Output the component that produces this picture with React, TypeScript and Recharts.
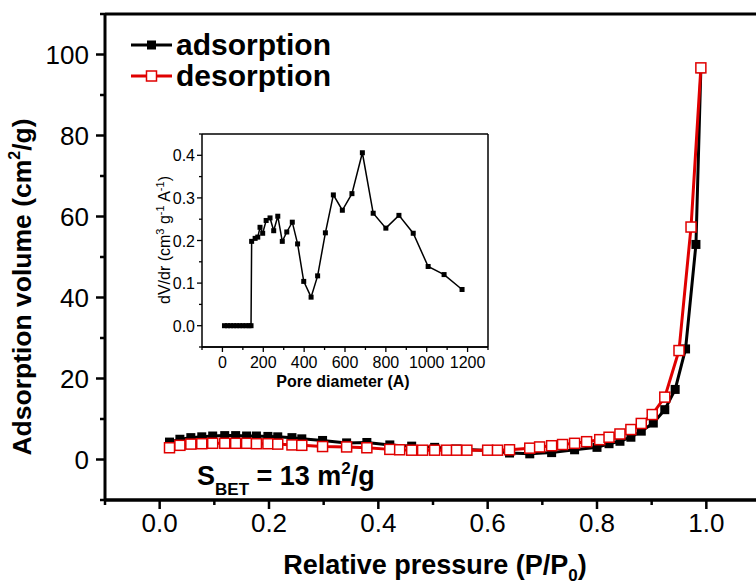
import React from "react";
import { Line, LineChart, ReferenceLine, XAxis, YAxis } from "recharts";

// main isotherm (P/P0 vs adsorbed volume)
const adsPressure = [
  0.018, 0.037, 0.057, 0.077, 0.097, 0.119, 0.139, 0.159, 0.177, 0.198, 0.216, 0.242, 0.26, 0.298,
  0.342, 0.379, 0.421, 0.461, 0.503, 0.543, 0.6, 0.64, 0.677, 0.717, 0.759, 0.8, 0.822, 0.842,
  0.862, 0.881, 0.903, 0.924, 0.943, 0.962, 0.981, 0.99,
];
const adsVolume = [
  4.3, 5.0, 5.4, 5.6, 5.8, 5.9, 5.9, 5.8, 5.8, 5.7, 5.6, 5.4, 5.1, 4.7, 4.1, 4.2, 3.6, 3.3, 3.0,
  2.6, 2.2, 1.6, 1.4, 1.7, 2.4, 3.0, 3.9, 4.5, 5.5, 7.0, 9.0, 12.3, 17.3, 27.3, 53.1, 96.5,
];
const desPressure = [
  0.018, 0.037, 0.057, 0.077, 0.097, 0.119, 0.139, 0.159, 0.177, 0.198, 0.216, 0.242, 0.26, 0.298,
  0.342, 0.379, 0.421, 0.439, 0.461, 0.481, 0.503, 0.525, 0.543, 0.562, 0.6, 0.618, 0.64, 0.677,
  0.695, 0.717, 0.737, 0.759, 0.781, 0.805, 0.822, 0.842, 0.862, 0.881, 0.901, 0.924, 0.95, 0.972,
  0.99,
];
const desVolume = [
  2.9, 3.5, 3.8, 3.9, 4.0, 4.0, 4.0, 4.0, 3.9, 3.9, 3.8, 3.6, 3.5, 3.2, 3.1, 2.9, 2.5, 2.4, 2.3,
  2.3, 2.3, 2.3, 2.3, 2.3, 2.3, 2.3, 2.4, 2.8, 3.1, 3.4, 3.7, 4.0, 4.4, 4.9, 5.5, 6.3, 7.4, 8.9,
  11.1, 15.4, 26.9, 57.4, 96.7,
];

// inset: pore size distribution
const poreDiameter = [
  10, 25, 40, 55, 70, 85, 100, 115, 130, 140, 143, 160, 173, 184, 197, 214, 233, 251, 271, 293,
  315, 342, 368, 398, 434, 466, 504, 543, 587, 634, 685, 738, 800, 864, 934, 1007, 1085, 1173,
];
const dVdr = [
  0, 0, 0, 0, 0, 0, 0, 0, 0, 0, 0.198, 0.205, 0.208, 0.231, 0.217, 0.247, 0.253, 0.223, 0.257,
  0.198, 0.22, 0.243, 0.192, 0.104, 0.067, 0.117, 0.218, 0.307, 0.271, 0.31, 0.406, 0.264, 0.229,
  0.259, 0.217, 0.139, 0.12, 0.085,
];

const xTicks = [-0.1, 0, 0.1, 0.2, 0.3, 0.4, 0.5, 0.6, 0.7, 0.8, 0.9, 1.0, 1.1];
const yTicks = [-10, 0, 10, 20, 30, 40, 50, 60, 70, 80, 90, 100, 110];
const insetXTicks = [-100, 0, 100, 200, 300, 400, 500, 600, 700, 800, 900, 1000, 1100, 1200, 1300];
const insetYTicks = [-0.05, 0, 0.05, 0.1, 0.15, 0.2, 0.25, 0.3, 0.35, 0.4, 0.45];

const adsData = adsPressure.map((p, i) => ({ p, v: adsVolume[i] }));
const desData = desPressure.map((p, i) => ({ p, v: desVolume[i] }));
const poreData = poreDiameter.map((d, i) => ({ d, v: dVdr[i] }));

const FONT = "Arial, 'Liberation Sans', sans-serif";

const MainXTick = ({ x, y, payload }: any) => {
  const v = payload.value;
  const major = Math.round(v * 10) % 2 === 0;
  return (
    <g>
      <line x1={x} x2={x} y1={y} y2={y + (major ? 9 : 5)} stroke="#000" strokeWidth={2.5} />
      {major && (
        <text x={x} y={y + 32} textAnchor="middle" fontSize={26} fontFamily={FONT} fill="#000">
          {v.toFixed(1)}
        </text>
      )}
    </g>
  );
};

const MainYTick = ({ x, y, payload }: any) => {
  const v = payload.value;
  const major = v % 20 === 0;
  return (
    <g>
      <line x1={x} x2={x - (major ? 9 : 5)} y1={y} y2={y} stroke="#000" strokeWidth={2.5} />
      {major && (
        <text x={x - 16} y={y + 9} textAnchor="end" fontSize={26} fontFamily={FONT} fill="#000">
          {v}
        </text>
      )}
    </g>
  );
};

const InsetXTick = ({ x, y, payload }: any) => {
  const v = payload.value;
  const major = v % 200 === 0;
  return (
    <g>
      <line x1={x} x2={x} y1={y} y2={y + (major ? 5 : 3)} stroke="#000" strokeWidth={1.3} />
      {major && (
        <text x={x} y={y + 21} textAnchor="middle" fontSize={16} fontFamily={FONT} fill="#000">
          {v}
        </text>
      )}
    </g>
  );
};

const InsetYTick = ({ x, y, payload }: any) => {
  const v = payload.value;
  const major = Math.round(v * 100) % 10 === 0;
  return (
    <g>
      <line x1={x} x2={x - (major ? 5 : 3)} y1={y} y2={y} stroke="#000" strokeWidth={1.3} />
      {major && (
        <text x={x - 7} y={y + 6} textAnchor="end" fontSize={16} fontFamily={FONT} fill="#000">
          {v.toFixed(1)}
        </text>
      )}
    </g>
  );
};

const blackSquare = (p: any) => (
  <rect key={`a${p.index}`} x={p.cx - 4.5} y={p.cy - 4.5} width={9} height={9} fill="#000" />
);
const redSquare = (p: any) => (
  <rect
    key={`d${p.index}`}
    x={p.cx - 5}
    y={p.cy - 5}
    width={10}
    height={10}
    fill="#fff"
    stroke="#e00000"
    strokeWidth={1.5}
  />
);
const smallSquare = (p: any) => (
  <rect key={`s${p.index}`} x={p.cx - 2.5} y={p.cy - 2.5} width={5} height={5} fill="#000" />
);

export default function App() {
  return (
    <div
      style={{
        position: "absolute",
        left: 0,
        top: 0,
        width: 756,
        height: 586,
        overflow: "hidden",
        background: "#fff",
      }}
    >
      <LineChart width={771} height={586} margin={{ top: 14, right: 10, left: 0, bottom: 0 }}>
        <XAxis
          dataKey="p"
          type="number"
          domain={[-0.1, 1.1]}
          ticks={xTicks}
          interval={0}
          height={86}
          tickSize={0}
          tickMargin={0}
          tickLine={false}
          tick={<MainXTick />}
          axisLine={{ stroke: "#000", strokeWidth: 3 }}
          allowDataOverflow
          label={{
            content: () => (
              <text x={435} y={574} textAnchor="middle" fontSize={27} fontWeight="bold" fontFamily={FONT}>
                Relative pressure (P/P
                <tspan fontSize={17} dy={7}>
                  0
                </tspan>
                <tspan dy={-7}>)</tspan>
              </text>
            ),
          }}
        />
        <YAxis
          type="number"
          domain={[-10, 110]}
          ticks={yTicks}
          interval={0}
          width={105}
          tickSize={0}
          tickMargin={0}
          tickLine={false}
          tick={<MainYTick />}
          axisLine={{ stroke: "#000", strokeWidth: 3 }}
          allowDataOverflow
          label={{
            content: () => (
              <text
                transform="translate(31,287) rotate(-90)"
                textAnchor="middle"
                fontSize={26.5}
                fontWeight="bold"
                fontFamily={FONT}
              >
                Adsorption volume (cm
                <tspan fontSize={16} dy={-11}>
                  2
                </tspan>
                <tspan dy={11}>/g)</tspan>
              </text>
            ),
          }}
        />
        {/* plot frame */}
        <ReferenceLine y={110} stroke="#000" strokeWidth={3} ifOverflow="visible" />
        <ReferenceLine y={-10} stroke="#000" strokeWidth={3} ifOverflow="visible" />
        <ReferenceLine x={1.1} stroke="#000" strokeWidth={3} ifOverflow="visible" />
        <Line
          data={adsData}
          dataKey="v"
          type="linear"
          stroke="#000"
          strokeWidth={3}
          dot={blackSquare}
          activeDot={false}
          isAnimationActive={false}
        />
        <Line
          data={desData}
          dataKey="v"
          type="linear"
          stroke="#e00000"
          strokeWidth={3}
          dot={redSquare}
          activeDot={false}
          isAnimationActive={false}
        />
      </LineChart>

      {/* legend and BET note */}
      <svg
        width={756}
        height={586}
        style={{ position: "absolute", left: 0, top: 0, pointerEvents: "none" }}
      >
        <line x1={131} x2={172} y1={45} y2={45} stroke="#000" strokeWidth={3} />
        <rect x={147} y={40.5} width={9} height={9} fill="#000" />
        <text x={176} y={55} fontSize={30} fontWeight="bold" fontFamily={FONT}>
          adsorption
        </text>
        <line x1={131} x2={172} y1={76} y2={76} stroke="#e00000" strokeWidth={3} />
        <rect x={146.5} y={71} width={10} height={10} fill="#fff" stroke="#e00000" strokeWidth={1.5} />
        <text x={176} y={86} fontSize={30} fontWeight="bold" fontFamily={FONT}>
          desorption
        </text>
        <text x={197} y={485} fontSize={27} fontWeight="bold" fontFamily={FONT}>
          S
          <tspan fontSize={17} dy={10}>
            BET
          </tspan>
          <tspan dy={-10}> = 13 m</tspan>
          <tspan fontSize={17} dy={-11}>
            2
          </tspan>
          <tspan dy={11}>/g</tspan>
        </text>
      </svg>

      {/* inset */}
      <div style={{ position: "absolute", left: 130, top: 120 }}>
        <LineChart width={370} height={280} margin={{ top: 14, right: 12, left: 0, bottom: 0 }}>
          <XAxis
            dataKey="d"
            type="number"
            domain={[-100, 1300]}
            ticks={insetXTicks}
            interval={0}
            height={53}
            tickSize={0}
            tickMargin={0}
            tickLine={false}
            tick={<InsetXTick />}
            axisLine={{ stroke: "#000", strokeWidth: 1.5 }}
            allowDataOverflow
            label={{
              content: () => (
                <text x={213} y={267} textAnchor="middle" fontSize={16} fontWeight="bold" fontFamily={FONT}>
                  Pore diameter (A)
                </text>
              ),
            }}
          />
          <YAxis
            type="number"
            domain={[-0.05, 0.45]}
            ticks={insetYTicks}
            interval={0}
            width={72}
            tickSize={0}
            tickMargin={0}
            tickLine={false}
            tick={<InsetYTick />}
            axisLine={{ stroke: "#000", strokeWidth: 1.5 }}
            allowDataOverflow
            label={{
              content: () => (
                <text
                  transform="translate(40,120) rotate(-90)"
                  textAnchor="middle"
                  fontSize={16}
                  fontFamily={FONT}
                >
                  dV/dr (cm
                  <tspan fontSize={11} dy={-6}>
                    3
                  </tspan>
                  <tspan dy={6}> g</tspan>
                  <tspan fontSize={11} dy={-6}>
                    -1
                  </tspan>
                  <tspan dy={6}> A</tspan>
                  <tspan fontSize={11} dy={-6}>
                    -1
                  </tspan>
                  <tspan dy={6}>)</tspan>
                </text>
              ),
            }}
          />
          <ReferenceLine y={0.45} stroke="#000" strokeWidth={1.5} ifOverflow="visible" />
          <ReferenceLine y={-0.05} stroke="#000" strokeWidth={1.5} ifOverflow="visible" />
          <ReferenceLine x={1300} stroke="#000" strokeWidth={1.5} ifOverflow="visible" />
          <Line
            data={poreData}
            dataKey="v"
            type="linear"
            stroke="#000"
            strokeWidth={1.5}
            dot={smallSquare}
            activeDot={false}
            isAnimationActive={false}
          />
        </LineChart>
      </div>
    </div>
  );
}
